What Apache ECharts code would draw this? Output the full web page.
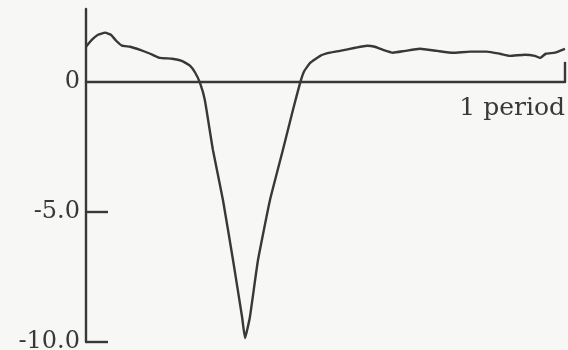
<!DOCTYPE html>
<html>
<head>
<meta charset="utf-8">
<script src="https://cdn.jsdelivr.net/npm/echarts@6/dist/echarts.min.js"></script>
<style>
  html, body { margin: 0; padding: 0; background: #f7f7f5; }
  #chart { width: 568px; height: 350px; }
</style>
</head>
<body>
<div id="chart"></div>
<script>
// Phase within one period (0..1)
var phase = [
  0, 0.0125, 0.025, 0.040, 0.052, 0.063, 0.075, 0.092, 0.113, 0.134,
  0.154, 0.180, 0.200, 0.217, 0.228, 0.238, 0.248, 0.265, 0.286, 0.307,
  0.326, 0.332, 0.342, 0.359, 0.384, 0.411, 0.432, 0.447, 0.455, 0.468,
  0.489, 0.509, 0.530, 0.562, 0.587, 0.603, 0.620, 0.641, 0.666, 0.697,
  0.733, 0.766, 0.802, 0.837, 0.864, 0.885, 0.916, 0.937, 0.948, 0.960,
  0.979, 1.000
];
// Signal amplitude at each phase
var amplitude = [
  1.35, 1.62, 1.81, 1.89, 1.81, 1.58, 1.39, 1.35, 1.23, 1.08,
  0.92, 0.89, 0.81, 0.62, 0.35, -0.04, -0.69, -2.62, -4.55, -6.86,
  -9.06, -9.85, -9.06, -6.86, -4.55, -2.62, -1.08, -0.04, 0.39, 0.73,
  1.00, 1.12, 1.19, 1.31, 1.39, 1.35, 1.23, 1.12, 1.19, 1.27,
  1.19, 1.12, 1.16, 1.16, 1.08, 1.00, 1.04, 1.00, 0.92, 1.08,
  1.12, 1.27
];
// Labelled y ticks and their text
var yTickValues = [-10, -5, 0];
var yTickLabels = ['-10.0', '-5.0', '0'];
var periodLabel = '1 period';

var ink = '#383838';
var font = 'DejaVu Serif';

var chart = echarts.init(document.getElementById('chart'), null, { renderer: 'canvas' });
chart.setOption({
  backgroundColor: '#f7f7f5',
  animation: false,
  grid: { left: 86, right: 3, top: 9, bottom: 8, outerBoundsMode: 'none', containLabel: false },
  xAxis: {
    type: 'value',
    min: 0,
    max: 1,
    axisLine: { onZero: true, lineStyle: { color: ink, width: 2.4 } },
    axisTick: {
      show: true,
      inside: true,
      length: 20,
      customValues: [1],
      lineStyle: { color: ink, width: 2.4 }
    },
    axisLabel: { show: false },
    name: periodLabel,
    nameLocation: 'end',
    nameGap: 0,
    nameTextStyle: {
      align: 'right',
      verticalAlign: 'top',
      padding: [14, 0, 0, 0],
      color: ink,
      fontFamily: font,
      fontSize: 25
    },
    splitLine: { show: false }
  },
  yAxis: {
    type: 'value',
    min: -10,
    max: 2.8,
    interval: 5,
    axisLine: { show: true, onZero: false, lineStyle: { color: ink, width: 2.4 } },
    axisTick: {
      show: true,
      inside: true,
      length: 22,
      customValues: [-10, -5],
      lineStyle: { color: ink, width: 2.4 }
    },
    axisLabel: {
      show: true,
      customValues: yTickValues,
      formatter: function (v) {
        var i = yTickValues.indexOf(Math.round(v));
        return i >= 0 ? yTickLabels[i] : '';
      },
      margin: 6,
      color: ink,
      fontFamily: font,
      fontSize: 24
    },
    splitLine: { show: false }
  },
  series: [{
    type: 'line',
    data: phase.map(function (p, i) { return [p, amplitude[i]]; }),
    smooth: 0.12,
    showSymbol: false,
    clip: false,
    lineStyle: { color: ink, width: 2.4 }
  }]
});
</script>
</body>
</html>
